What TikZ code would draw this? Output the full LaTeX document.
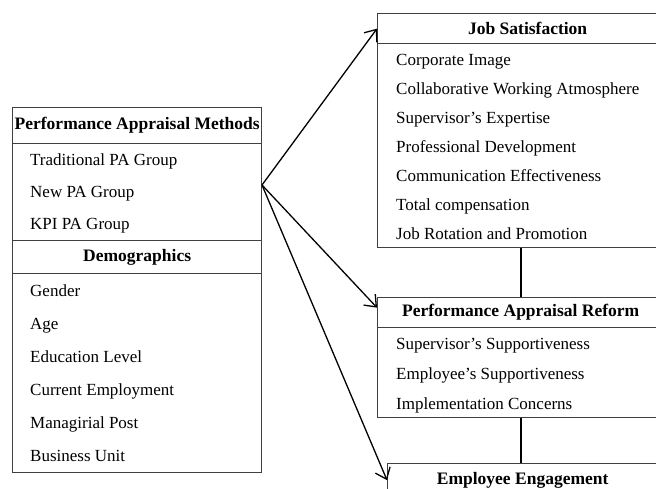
\documentclass[tikz,border=0pt]{standalone}
\usepackage{fontspec}
\setmainfont{Liberation Serif}
\usetikzlibrary{arrows.meta}

\begin{document}
\begin{tikzpicture}[x=1pt, y=-1pt,
  box/.style={draw=black!75, line width=1.3pt, anchor=north west, inner sep=0pt},
  head/.style={font=\fontsize{17.5}{19}\selectfont\bfseries},
  item/.style={font=\fontsize{17}{19}\selectfont, anchor=west, inner sep=0pt,
    text height=11pt, text depth=4pt},
  link/.style={line width=1.8pt},
  arr/.style={line width=1.3pt, -{Straight Barb[length=10pt,width=16pt,line width=1.3pt]}}]
\useasboundingbox (0,0) rectangle (656,488);
\clip (0,0) rectangle (656,488);

% Left column: methods and demographics
\node[box, head, minimum width=249pt, minimum height=36pt] (pamhead) at (12,107) {Performance Appraisal Methods};
\node[box, minimum width=249pt, minimum height=97pt] (pambody) at (12,143) {};
\node[item] (pam1) at (30,162) {Traditional PA Group};
\node[item] (pam2) at (30,194) {New PA Group};
\node[item] (pam3) at (30,226) {KPI PA Group};
\node[box, head, minimum width=249pt, minimum height=33pt] (demhead) at (12,240) {Demographics};
\node[box, minimum width=249pt, minimum height=199pt] (dembody) at (12,273) {};
\node[item] (dem1) at (30,293) {Gender};
\node[item] (dem2) at (30,326) {Age};
\node[item] (dem3) at (30,359) {Education Level};
\node[item] (dem4) at (30,392) {Current Employment};
\node[item] (dem5) at (30,425) {Managirial Post};
\node[item] (dem6) at (30,458) {Business Unit};

% Right column: outcomes
\node[box, head, minimum width=300pt, minimum height=30pt] (jshead) at (377,13) {Job Satisfaction};
\node[box, minimum width=300pt, minimum height=204pt] (jsbody) at (377,43) {};
\node[item] (js1) at (396,62) {Corporate Image};
\node[item] (js2) at (396,91) {Collaborative Working Atmosphere};
\node[item] (js3) at (396,120) {Supervisor's Expertise};
\node[item] (js4) at (396,149) {Professional Development};
\node[item] (js5) at (396,178) {Communication Effectiveness};
\node[item] (js6) at (396,207) {Total compensation};
\node[item] (js7) at (396,236) {Job Rotation and Promotion};

\node[box, head, minimum width=286pt, minimum height=30pt] (parhead) at (377,297) {Performance Appraisal Reform};
\node[box, minimum width=286pt, minimum height=90pt] (parbody) at (377,327) {};
\node[item] (par1) at (396,346) {Supervisor's Supportiveness};
\node[item] (par2) at (396,376) {Employee's Supportiveness};
\node[item] (par3) at (396,406) {Implementation Concerns};

\node[box, head, minimum width=270pt, minimum height=33pt] (eehead) at (387,463) {Employee Engagement};

% Links between the outcome boxes
\draw[link] (parhead.north) -- (parhead.north |- jsbody.south);
\draw[link] (parbody.south) -- (parbody.south |- eehead.north);

% Arrows from the methods
\coordinate (fork) at (262,185);
\draw[arr] (fork) -- (jshead.west);
\draw[arr] (fork) -- ([yshift=5pt]parhead.west);
\draw[arr] (fork) -- (eehead.west);
\end{tikzpicture}
\end{document}
